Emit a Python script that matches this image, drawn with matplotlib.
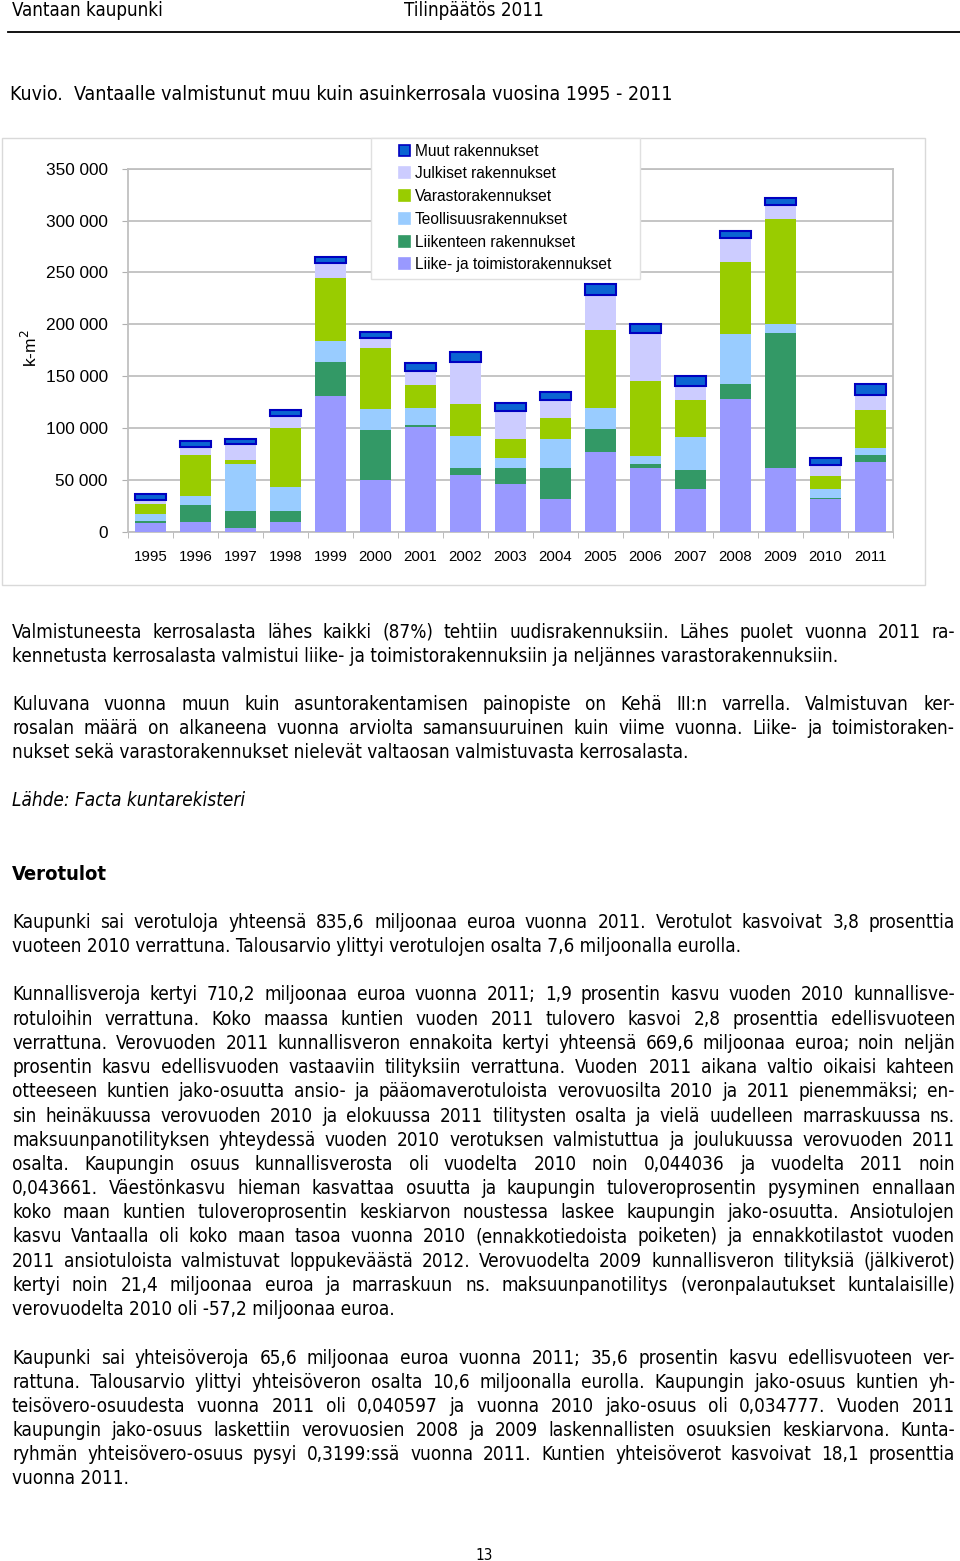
import matplotlib
matplotlib.use('Agg')
import numpy as np
from matplotlib import pyplot as plt
from matplotlib import font_manager
from matplotlib.patches import Rectangle, Patch
from matplotlib.ticker import FuncFormatter

years = ['1995', '1996', '1997', '1998', '1999', '2000', '2001', '2002', '2003',
         '2004', '2005', '2006', '2007', '2008', '2009', '2010', '2011']
# kerrosala k-m2 by building type
liike = [8700, 9600, 3200, 9600, 130600, 49800, 100500, 54600, 45600, 31800, 76400, 61300, 41100, 128400, 61000, 31100, 66800]
liikenne = [1600, 15700, 17000, 10300, 33400, 47800, 2200, 7000, 15400, 29800, 22500, 3900, 18300, 13800, 130900, 1300, 7000]
teollisuus = [6400, 9000, 45300, 23400, 20000, 20500, 16400, 30800, 10300, 27300, 20800, 7400, 31800, 48400, 8100, 8400, 7100]
varasto = [10300, 39200, 3800, 56900, 60500, 59400, 22100, 31200, 17900, 20600, 74900, 72300, 35600, 69800, 101500, 12800, 36900]
julkiset = [3500, 7700, 14800, 10900, 14400, 9000, 13500, 39800, 27000, 17900, 33700, 46500, 13500, 22600, 13500, 10300, 13800]
muut = [5800, 6100, 5500, 5800, 6400, 5800, 8000, 9900, 8300, 7700, 10300, 9000, 9400, 7300, 6500, 7400, 10900]

series_names = ['Liike- ja toimistorakennukset', 'Liikenteen rakennukset', 'Teollisuusrakennukset',
                'Varastorakennukset', 'Julkiset rakennukset', 'Muut rakennukset']
series_data = [liike, liikenne, teollisuus, varasto, julkiset, muut]
colors = ['#9999FF', '#339966', '#99CCFF', '#99CC00', '#CCCCFF', '#0A64D2']

W, H = 960, 1561
fig = plt.figure(figsize=(W / 100, H / 100), dpi=100)
fig.patch.set_facecolor('white')

names = {f.name for f in font_manager.fontManager.ttflist}
if 'Liberation Sans Narrow' in names:
    body = dict(family='Liberation Sans Narrow')
else:
    body = dict(family='DejaVu Sans', stretch='condensed')
chartfont = 'Liberation Sans'


def fy(y):
    return 1 - y / H


# page header
fig.text(12 / W, fy(10), 'Vantaan kaupunki', ha='left', va='center', fontsize=13.5, **body)
fig.text(404 / W, fy(10), 'Tilinpäätös 2011', ha='left', va='center', fontsize=13.5, **body)
fig.add_artist(plt.Line2D([8 / W, 1], [fy(32), fy(32)], color='black', lw=1.3, transform=fig.transFigure))
fig.text(10 / W, fy(94), 'Kuvio.  Vantaalle valmistunut muu kuin asuinkerrosala vuosina 1995 - 2011',
         ha='left', va='center', fontsize=14, **body)

# chart frame
fig.add_artist(Rectangle((2 / W, fy(585)), 923 / W, 447 / H, transform=fig.transFigure,
                         fill=False, edgecolor='#d9d9d9', lw=1))

ax = fig.add_axes([128 / W, fy(531.7), 765 / W, 363 / H])
x = np.arange(len(years))
bottom = np.zeros(len(years))
for name, vals, c in zip(series_names, series_data, colors):
    if name == 'Muut rakennukset':
        ax.bar(x, vals, 0.71, bottom=bottom, color=c, edgecolor='#0000C0', linewidth=1.5, zorder=3)
    else:
        ax.bar(x, vals, 0.71, bottom=bottom, color=c, linewidth=0, zorder=3)
    bottom += np.array(vals)

ax.set_xlim(-0.5, len(years) - 0.5)
ax.set_ylim(0, 350000)
ax.set_yticks(np.arange(0, 350001, 50000))
ax.yaxis.set_major_formatter(FuncFormatter(lambda v, p: f'{int(v):,}'.replace(',', ' ')))
ax.set_xticks(x)
ax.set_xticklabels(years)
ax.set_xticks(np.arange(-0.5, len(years), 1), minor=True)
ax.tick_params(axis='x', which='major', length=0, pad=13.5, labelsize=10.8, labelfontfamily=chartfont)
ax.tick_params(axis='x', which='minor', length=4, color='#b0b0b0', direction='out')
ax.tick_params(axis='y', length=4, color='#b0b0b0', pad=10.5, labelsize=12.4, labelfontfamily=chartfont)
ax.grid(axis='y', color='#c0c0c0', lw=1.3, zorder=0)
for s in ax.spines.values():
    s.set_color('#c0c0c0')
    s.set_linewidth(1.3)
ax.set_ylabel('k-m$^2$', fontsize=12.5, family=chartfont)
ax.yaxis.set_label_coords(-0.115, 0.505)

# legend box (white, over the grid) and entries
fig.add_artist(Rectangle((371 / W, fy(279)), 269 / W, 141 / H, transform=fig.transFigure,
                         facecolor='white', edgecolor='#e0e0e0', lw=1, zorder=2))
handles = [Patch(facecolor=c, edgecolor=('#0000C0' if n == 'Muut rakennukset' else c), lw=1.2)
           for n, c in zip(series_names, colors)]
leg = fig.legend(handles[::-1], series_names[::-1], loc='upper left',
                 bbox_to_anchor=(399 / W, fy(143.5)), bbox_transform=fig.transFigure,
                 borderaxespad=0, frameon=False, borderpad=0,
                 prop=dict(family=chartfont, size=11.2), handlelength=0.72, handleheight=0.72,
                 handletextpad=0.3, labelspacing=0.5)
leg.set_zorder(3)

# body text, justified between X0 and X1
X0, X1 = 12, 955
renderer = fig.canvas.get_renderer()
FS = 13.6


def put_line(text, y, justify, **kw):
    if not justify:
        fig.text(X0 / W, fy(y), text, ha='left', va='center', **kw)
        return
    words = text.split(' ')
    arts = [fig.text(0, fy(y), w, ha='left', va='center', **kw) for w in words]
    widths = [a.get_window_extent(renderer).width for a in arts]
    gap = (X1 - X0 - sum(widths)) / (len(words) - 1)
    xp = X0
    for a, w in zip(arts, widths):
        a.set_x(xp / W)
        xp += w + gap


def paragraph(lines, y0, step=24.2, **kw):
    for i, ln in enumerate(lines):
        put_line(ln, y0 + i * step, i < len(lines) - 1, **kw)


p1 = ["Valmistuneesta kerrosalasta lähes kaikki (87%) tehtiin uudisrakennuksiin. Lähes puolet vuonna 2011 ra-",
      "kennetusta kerrosalasta valmistui liike- ja toimistorakennuksiin ja neljännes varastorakennuksiin."]
p2 = ["Kuluvana vuonna muun kuin asuntorakentamisen painopiste on Kehä III:n varrella. Valmistuvan ker-",
      "rosalan määrä on alkaneena vuonna arviolta samansuuruinen kuin viime vuonna. Liike- ja toimistoraken-",
      "nukset sekä varastorakennukset nielevät valtaosan valmistuvasta kerrosalasta."]
p3 = ["Kaupunki sai verotuloja yhteensä 835,6 miljoonaa euroa vuonna 2011. Verotulot kasvoivat 3,8 prosenttia",
      "vuoteen 2010 verrattuna. Talousarvio ylittyi verotulojen osalta 7,6 miljoonalla eurolla."]
p4 = ["Kunnallisveroja kertyi 710,2 miljoonaa euroa vuonna 2011; 1,9 prosentin kasvu vuoden 2010 kunnallisve-",
      "rotuloihin verrattuna. Koko maassa kuntien vuoden 2011 tulovero kasvoi 2,8 prosenttia edellisvuoteen",
      "verrattuna. Verovuoden 2011 kunnallisveron ennakoita kertyi yhteensä 669,6 miljoonaa euroa; noin neljän",
      "prosentin kasvu edellisvuoden vastaaviin tilityksiin verrattuna. Vuoden 2011 aikana valtio oikaisi kahteen",
      "otteeseen kuntien jako-osuutta ansio- ja pääomaverotuloista verovuosilta 2010 ja 2011 pienemmäksi; en-",
      "sin heinäkuussa verovuoden 2010 ja elokuussa 2011 tilitysten osalta ja vielä uudelleen marraskuussa ns.",
      "maksuunpanotilityksen yhteydessä vuoden 2010 verotuksen valmistuttua ja joulukuussa verovuoden 2011",
      "osalta. Kaupungin osuus kunnallisverosta oli vuodelta 2010 noin 0,044036 ja vuodelta 2011 noin",
      "0,043661. Väestönkasvu hieman kasvattaa osuutta ja kaupungin tuloveroprosentin pysyminen ennallaan",
      "koko maan kuntien tuloveroprosentin keskiarvon noustessa laskee kaupungin jako-osuutta. Ansiotulojen",
      "kasvu Vantaalla oli koko maan tasoa vuonna 2010 (ennakkotiedoista poiketen) ja ennakkotilastot vuoden",
      "2011 ansiotuloista valmistuvat loppukeväästä 2012. Verovuodelta 2009 kunnallisveron tilityksiä (jälkiverot)",
      "kertyi noin 21,4 miljoonaa euroa ja marraskuun ns. maksuunpanotilitys (veronpalautukset kuntalaisille)",
      "verovuodelta 2010 oli -57,2 miljoonaa euroa."]
p5 = ["Kaupunki sai yhteisöveroja 65,6 miljoonaa euroa vuonna 2011; 35,6 prosentin kasvu edellisvuoteen ver-",
      "rattuna. Talousarvio ylittyi yhteisöveron osalta 10,6 miljoonalla eurolla. Kaupungin jako-osuus kuntien yh-",
      "teisövero-osuudesta vuonna 2011 oli 0,040597 ja vuonna 2010 jako-osuus oli 0,034777. Vuoden 2011",
      "kaupungin jako-osuus laskettiin verovuosien 2008 ja 2009 laskennallisten osuuksien keskiarvona. Kunta-",
      "ryhmän yhteisövero-osuus pysyi 0,3199:ssä vuonna 2011. Kuntien yhteisöverot kasvoivat 18,1 prosenttia",
      "vuonna 2011."]

paragraph(p1, 632, fontsize=FS, **body)
paragraph(p2, 704, fontsize=FS, **body)
fig.text(X0 / W, fy(801), 'Lähde: Facta kuntarekisteri', ha='left', va='center',
         fontsize=FS, style='italic', **body)
fig.text(X0 / W, fy(874), 'Verotulot', ha='left', va='center', fontsize=14.5, weight='bold', **body)
paragraph(p3, 922, fontsize=FS, **body)
paragraph(p4, 995, fontsize=FS, **body)
paragraph(p5, 1358, fontsize=FS, **body)
fig.text(484 / W, fy(1555), '13', ha='center', va='center', fontsize=11, **body)

fig.savefig('out.png', dpi=100, facecolor='white')
